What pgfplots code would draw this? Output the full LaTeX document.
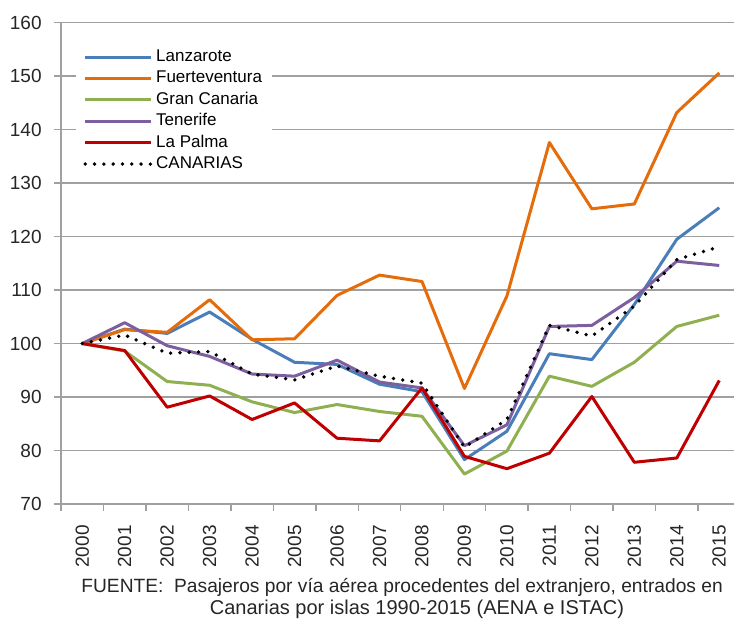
\documentclass[border=0pt]{standalone}
\usepackage{fontspec}
\setmainfont{Liberation Sans}
\usepackage{pgfplots}
\usepackage{pgfplotstable}
\pgfplotsset{compat=1.18}
\usetikzlibrary{calc}

\definecolor{axgray}{HTML}{A0A0A0}
\definecolor{cLan}{HTML}{4A7EBB}
\definecolor{cFue}{HTML}{E46C0A}
\definecolor{cGra}{HTML}{8FB050}
\definecolor{cTen}{HTML}{7D5FA0}
\definecolor{cPal}{HTML}{C00000}

% indice 2000 = 100
\pgfplotstableread{
year  L      F      G      T      P     C
2000  100.0  100.0  100.0  100.0  100.0 100.0
2001  102.7  102.6  98.6   103.9  98.7  101.6
2002  101.9  102.1  92.9   99.6   88.1  98.2
2003  105.9  108.2  92.2   97.6   90.2  98.5
2004  100.8  100.7  89.1   94.3   85.8  94.3
2005  96.5   100.9  87.1   93.9   88.9  93.2
2006  96.1   109.0  88.6   96.9   82.3  95.8
2007  92.4   112.8  87.3   92.8   81.8  93.9
2008  91.0   111.6  86.4   91.7   91.7  92.6
2009  78.3   91.6   75.6   80.9   78.9  80.6
2010  83.6   108.9  79.9   84.8   76.6  85.8
2011  98.1   137.6  93.9   103.2  79.5  103.4
2012  97.0   125.2  92.0   103.4  90.1  101.4
2013  107.3  126.1  96.5   108.6  77.8  107.0
2014  119.5  143.2  103.2  115.4  78.6  115.7
2015  125.4  150.6  105.3  114.6  93.1  118.1
}\datos

\begin{document}
\begin{tikzpicture}
\begin{axis}[
  name=ax, at={(0,0)}, anchor=south west,
  scale only axis, width=339.75pt, height=240.65pt,
  xmin=1999.5, xmax=2015.5, ymin=70, ymax=160,
  xtick={2000,...,2015}, ytick={70,80,...,160},
  minor xtick={1999.5,2000.5,...,2015.5},
  major x tick style={draw=none},
  axis x line=bottom, axis y line=left,
  axis line style={draw=axgray, line width=0.7pt, -},
  tick style={draw=axgray, line width=0.7pt},
  tick align=outside, major tick length=3.5pt, minor tick length=3.5pt,
  ymajorgrids, grid style={draw=axgray, line width=0.7pt},
  /pgf/number format/assume math mode=true,
  yticklabel style={font=\fontsize{9.5}{10}\selectfont, inner sep=0pt, text=black!85},
  xticklabel style={font=\fontsize{9.5}{10}\selectfont, inner sep=0pt, text=black!85,
    rotate=90, anchor=east, /pgf/number format/1000 sep={}},
  yticklabel shift=6pt, xticklabel shift=7pt,
  legend style={at={(rel axis cs:0.022,0.96)}, anchor=north west, draw=none, fill=white,
    font=\fontsize{8.5}{10}\selectfont, inner xsep=3.5pt, inner ysep=2pt, row sep=0pt,
    nodes={text height=6.3pt, text depth=1.8pt, inner ysep=1.3pt, inner xsep=1.5pt}},
  legend cell align=left,
  legend image code/.code={\draw[#1] (0pt,0pt) -- (33pt,0pt);},
  every axis plot/.append style={line join=round},
]
\addplot[cLan, line width=1.5pt] table[x=year, y=L] {\datos};
\addlegendentry{Lanzarote}
\addplot[cFue, line width=1.5pt] table[x=year, y=F] {\datos};
\addlegendentry{Fuerteventura}
\addplot[cGra, line width=1.5pt] table[x=year, y=G] {\datos};
\addlegendentry{Gran Canaria}
\addplot[cTen, line width=1.5pt] table[x=year, y=T] {\datos};
\addlegendentry{Tenerife}
\addplot[cPal, line width=1.5pt] table[x=year, y=P] {\datos};
\addlegendentry{La Palma}
\addplot[black, line width=1.9pt, line cap=round, dash pattern=on 0pt off 4.65pt] table[x=year, y=C] {\datos};
\addlegendentry{CANARIAS}
\end{axis}

\node[anchor=base west, inner sep=0pt, font=\fontsize{9.6}{11}\selectfont, text=black!85]
  at ($(ax.south west)+(10pt,-44.5pt)$)
  {FUENTE:\ \ Pasajeros por vía aérea procedentes del extranjero, entrados en};
\node[anchor=base, inner sep=0pt, font=\fontsize{10}{11}\selectfont, text=black!85]
  at ($(ax.south west)+(178pt,-55.5pt)$)
  {Canarias por islas 1990-2015 (AENA e ISTAC)};

\pgfresetboundingbox
\path[use as bounding box] ($(ax.south west)+(-30.5pt,-57.5pt)$) rectangle ($(ax.north west)+(336.5pt,11.35pt)$);
\end{tikzpicture}
\end{document}
